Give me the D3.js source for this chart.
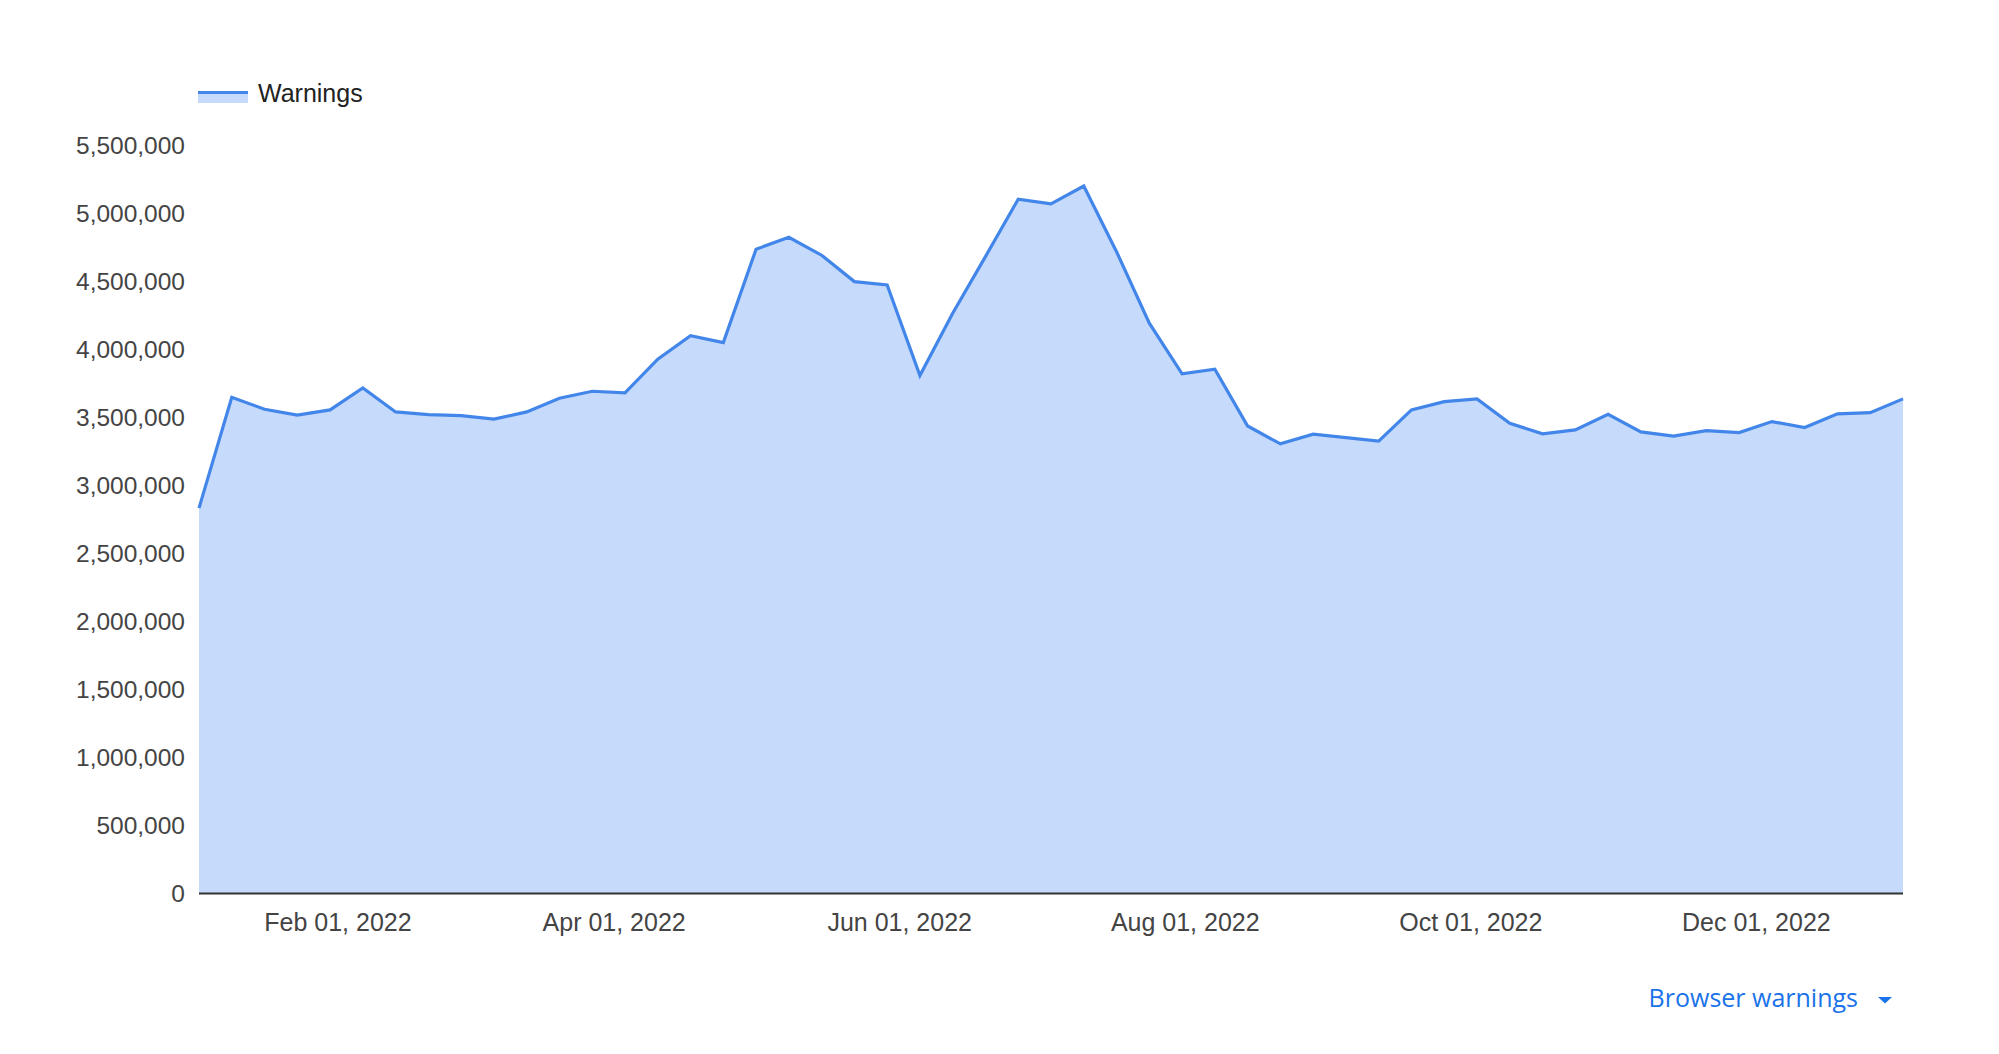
<!DOCTYPE html>
<html><head><meta charset="utf-8">
<script src="https://cdn.jsdelivr.net/npm/d3@7"></script>
<style>
html,body{margin:0;padding:0;background:#fff;}
svg{display:block;font-family:"Liberation Sans",Arial,sans-serif;}
</style></head>
<body>
<svg id="chart" width="1999" height="1054"></svg>
<script>
const seriesName = "Warnings";
const dates = ["2022-01-02","2022-01-09","2022-01-16","2022-01-23","2022-01-30","2022-02-06","2022-02-13","2022-02-20","2022-02-27",
"2022-03-06","2022-03-13","2022-03-20","2022-03-27","2022-04-03","2022-04-10","2022-04-17","2022-04-24",
"2022-05-01","2022-05-08","2022-05-15","2022-05-22","2022-05-29","2022-06-05","2022-06-12","2022-06-19","2022-06-26",
"2022-07-03","2022-07-10","2022-07-17","2022-07-24","2022-07-31","2022-08-07","2022-08-14","2022-08-21","2022-08-28",
"2022-09-04","2022-09-11","2022-09-18","2022-09-25","2022-10-02","2022-10-09","2022-10-16","2022-10-23","2022-10-30",
"2022-11-06","2022-11-13","2022-11-20","2022-11-27","2022-12-04","2022-12-11","2022-12-18","2022-12-25","2023-01-01"];
const warnings = [2833000,3648000,3560000,3516000,3555000,3717000,3540000,3520000,3513000,
3487000,3540000,3641000,3692000,3680000,3928000,4101000,4050000,
4736000,4824000,4692000,4498000,4474000,3807000,4266000,4682000,5104000,
5069000,5201000,4718000,4192000,3820000,3854000,3437000,3305000,3376000,
3351000,3325000,3555000,3616000,3636000,3457000,3379000,3408000,3523000,
3393000,3362000,3403000,3388000,3469000,3425000,3526000,3535000,3636000];
const yTicks = [0,500000,1000000,1500000,2000000,2500000,3000000,3500000,4000000,4500000,5000000,5500000];
const xTickDates = ["2022-02-01","2022-04-01","2022-06-01","2022-08-01","2022-10-01","2022-12-01"];
const footerLabel = "Browser warnings";

(function(){
const parse = d3.utcParse("%Y-%m-%d");
const data = dates.map((d,i)=>({date:parse(d), value:warnings[i]}));

const svg = d3.select("#chart");
const mL = 199, mR = 1903, mT = 145.3, mB = 893.5;
const x = d3.scaleUtc().domain(d3.extent(data, d=>d.date)).range([mL,mR]);
const y = d3.scaleLinear().domain([0,5500000]).range([mB, mT]);

const lineColor = "#4386ea", fillColor = "#c6dafc", textColor = "#444";
const font = '"Liberation Sans",Arial,sans-serif';

svg.append("path").datum(data)
  .attr("fill", fillColor)
  .attr("d", d3.area().x(d=>x(d.date)).y0(y(0)).y1(d=>y(d.value)));

svg.append("path").datum(data)
  .attr("fill","none").attr("stroke",lineColor).attr("stroke-width",3.2)
  .attr("stroke-linejoin","miter")
  .attr("d", d3.line().x(d=>x(d.date)).y(d=>y(d.value)));

const yAxis = svg.append("g").attr("transform",`translate(${mL-14},0)`)
  .call(d3.axisLeft(y).tickValues(yTicks).tickSize(0).tickPadding(0).tickFormat(d3.format(",")));
yAxis.select(".domain").remove();
yAxis.selectAll("text").attr("font-size",24.5).attr("fill",textColor).attr("font-family",font);

const xAxis = svg.append("g").attr("transform",`translate(0,${mB})`)
  .call(d3.axisBottom(x).tickValues(xTickDates.map(parse)).tickSize(0).tickPadding(20)
    .tickFormat(d3.utcFormat("%b %d, %Y")));
xAxis.select(".domain").remove();
xAxis.selectAll("text").attr("font-size",25).attr("fill",textColor).attr("font-family",font)
  .attr("transform","translate(-2,0)");

svg.append("line").attr("x1",mL).attr("x2",mR).attr("y1",y(0)).attr("y2",y(0))
  .attr("stroke","#333").attr("stroke-width",2);

const lg = svg.append("g");
lg.append("rect").attr("x",198).attr("y",92).attr("width",50).attr("height",11).attr("fill",fillColor);
lg.append("line").attr("x1",198).attr("x2",248).attr("y1",92.5).attr("y2",92.5)
  .attr("stroke",lineColor).attr("stroke-width",3);
lg.append("text").attr("x",258).attr("y",101.5).attr("font-size",25).attr("fill","#222").attr("font-family",font).text(seriesName);

svg.append("text").attr("x",1858).attr("y",1007).attr("text-anchor","end")
  .attr("font-family",'"Open Sans",sans-serif').attr("font-weight",500)
  .attr("font-size",25).attr("fill","#1a73e8").text(footerLabel);
svg.append("path").attr("d","M1878,997 L1892,997 L1885,1003.5 Z").attr("fill","#1a73e8");
})();
</script>
</body></html>
